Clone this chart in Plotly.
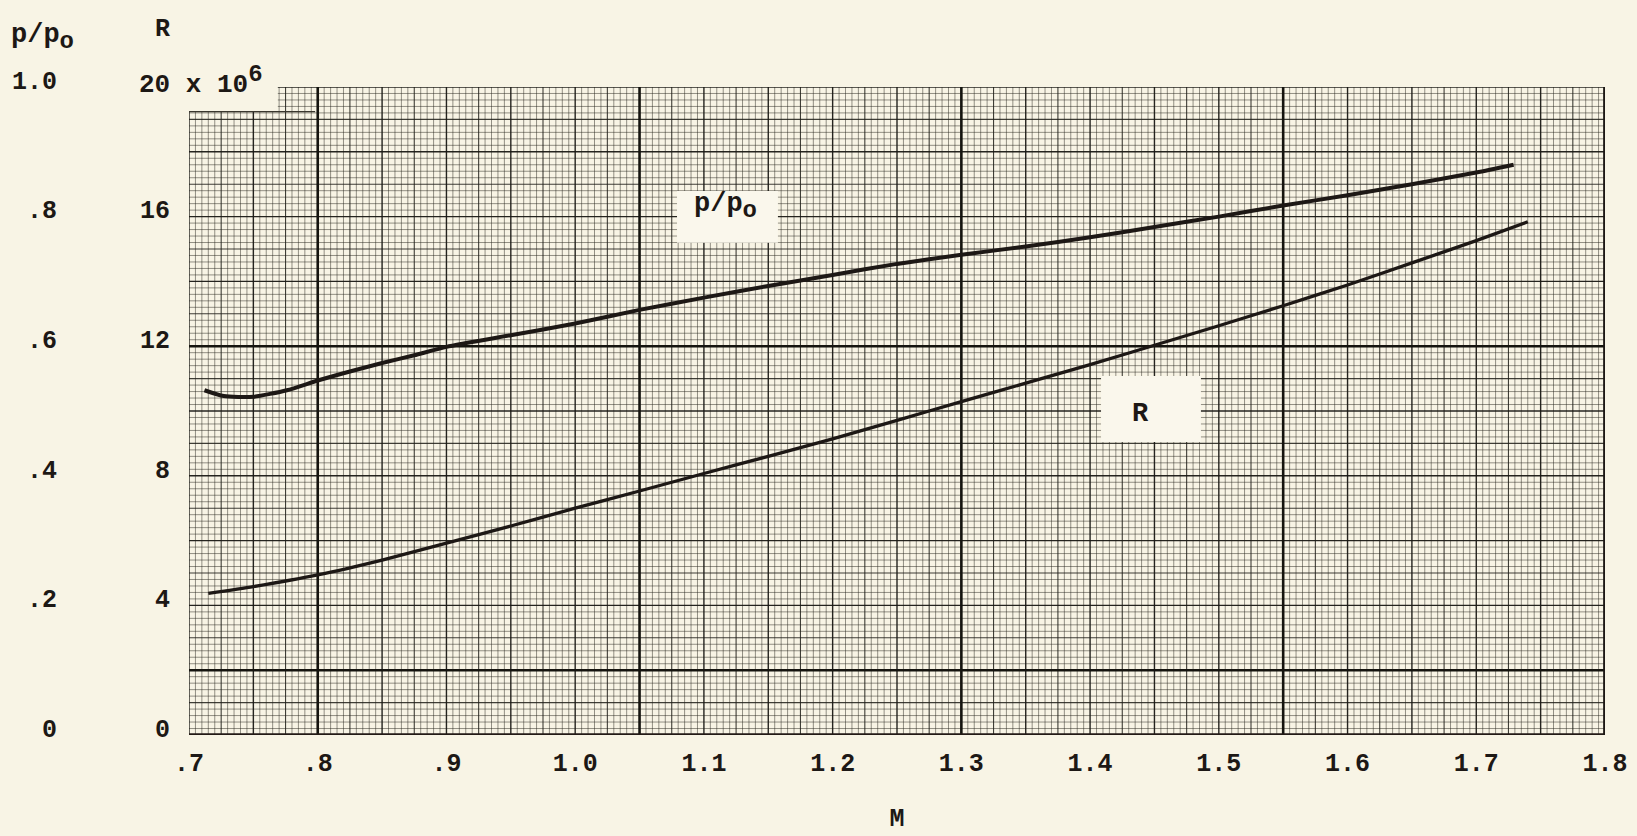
import plotly.graph_objects as go

# ---------------- data ----------------
M_p = [0.712, 0.727, 0.750, 0.776, 0.800, 0.825, 0.850, 0.875, 0.900, 0.950,
       1.000, 1.050, 1.100, 1.150, 1.200, 1.250, 1.300, 1.350, 1.400, 1.450, 1.500,
       1.550, 1.600, 1.650, 1.700, 1.729]
p_ratio = [0.532, 0.523, 0.522, 0.532, 0.547, 0.561, 0.574, 0.586, 0.599, 0.617,
           0.635, 0.656, 0.675, 0.693, 0.710, 0.727, 0.741, 0.754, 0.768, 0.784, 0.800,
           0.817, 0.833, 0.850, 0.868, 0.880]

M_R = [0.715, 0.750, 0.800, 0.850, 0.900, 0.950, 1.000, 1.050, 1.100, 1.150, 1.200,
       1.250, 1.300, 1.350, 1.400, 1.450, 1.500, 1.550, 1.600, 1.650, 1.700, 1.740]
R_millions = [4.37, 4.58, 4.94, 5.40, 5.92, 6.45, 7.00, 7.53, 8.07, 8.60, 9.14,
              9.71, 10.29, 10.86, 11.43, 12.03, 12.63, 13.25, 13.89, 14.57, 15.26, 15.84]

x_tickvals = [0.7, 0.8, 0.9, 1.0, 1.1, 1.2, 1.3, 1.4, 1.5, 1.6, 1.7, 1.8]
x_ticktext = [".7", ".8", ".9", "1.0", "1.1", "1.2", "1.3", "1.4", "1.5", "1.6", "1.7", "1.8"]
R_tickvals = [0, 4, 8, 12, 16]
R_ticktext = ["0", "4", "8", "12", "16"]
p_tickvals = [0, 0.2, 0.4, 0.6, 0.8, 1.0]
p_ticktext = ["0", ".2", ".4", ".6", ".8", "1.0"]

# ---------------- style ----------------
PAPER = "#F8F4E5"
INK = "#1d1815"
FONT = "Liberation Mono"
FS = 25
W, H = 1637, 836
ML, MR, MT, MB = 0, 32, 87, 101
PLOT_W = W - ML - MR          # 1605
PLOT_H = H - MT - MB          # 648
AX_LEFT = 189                 # pixel of M = 0.7
X_MIN, X_MAX = 0.7, 1.8
R_MAX = 20

fig = go.Figure()

fig.add_trace(go.Scatter(x=M_p, y=p_ratio, mode="lines", yaxis="y2",
                         line=dict(color=INK, width=4.0, shape="spline", smoothing=0.6),
                         showlegend=False, hoverinfo="skip"))
fig.add_trace(go.Scatter(x=M_R, y=R_millions, mode="lines", yaxis="y",
                         line=dict(color=INK, width=3.3, shape="spline", smoothing=0.6),
                         showlegend=False, hoverinfo="skip"))

# ---------------- graph-paper grid ----------------
shapes = []
STY = {
    "fine": dict(color="rgba(40,38,30,0.55)", width=0.9),
    "med": dict(color="rgba(30,29,24,0.85)", width=1.1),
    "semi": dict(color="rgba(25,24,20,0.95)", width=1.4),
    "heavy": dict(color="#15140f", width=2.6),
}

def level(k, heavy_off, heavy_step):
    if (k - heavy_off) % heavy_step == 0:
        return "heavy"
    if k % 10 == 0:
        return "semi"
    if k % 5 == 0:
        return "med"
    return "fine"

for lvl in ["fine", "med", "semi", "heavy"]:
    for i in range(0, 221):          # every 0.005 in M
        if level(i, 20, 50) != lvl:
            continue
        m = X_MIN + i * 0.005
        shapes.append(dict(type="line", xref="x", yref="y", x0=m, x1=m, y0=0, y1=R_MAX,
                           line=STY[lvl], layer="below"))
    for j in range(0, 101):          # every 0.2 in R
        if level(j, 10, 50) != lvl:
            continue
        r = j * 0.2
        shapes.append(dict(type="line", xref="x", yref="y", x0=X_MIN, x1=X_MAX, y0=r, y1=r,
                           line=STY[lvl], layer="below"))

# heavy bottom and right borders
shapes.append(dict(type="line", xref="x", yref="y", x0=X_MIN, x1=X_MAX, y0=0, y1=0,
                   line=dict(color="#231a16", width=3.6), layer="below"))
shapes.append(dict(type="line", xref="x", yref="y", x0=X_MAX, x1=X_MAX, y0=0, y1=R_MAX,
                   line=dict(color="#1c1714", width=3.6), layer="below"))

# cut-away corner of the paper at top-left
shapes.append(dict(type="rect", xref="x", yref="y", x0=0.690, x1=0.769, y0=19.24, y1=20.4,
                   fillcolor=PAPER, line=dict(width=0), layer="below"))
shapes.append(dict(type="line", xref="x", yref="y", x0=0.7, x1=0.798, y0=19.24, y1=19.24,
                   line=dict(color="#3a372e", width=1.2), layer="below"))

# label boxes
shapes.append(dict(type="rect", xref="x", yref="y", x0=1.0791, x1=1.1575, y0=15.19, y1=16.79,
                   fillcolor="#FAF7EC", line=dict(width=0), layer="below"))
shapes.append(dict(type="rect", xref="x", yref="y", x0=1.4085, x1=1.4861, y0=9.04, y1=11.08,
                   fillcolor="#FAF7EC", line=dict(width=0), layer="below"))

def px_x(px):
    return (px - ML) / PLOT_W

def px_y(py):
    return (MT + PLOT_H - py) / PLOT_H

tfont = dict(family=FONT, size=FS, color=INK, weight="bold")
lfont = dict(family=FONT, size=27, color=INK, weight="bold")
SUB_O = "<sub><span style='font-size:24px'>o</span></sub>"

annotations = [
    dict(text="p/p" + SUB_O, xref="x", yref="y", x=1.1164, y=16.30, showarrow=False,
         font=lfont),
    dict(text="R", xref="x", yref="y", x=1.4395, y=9.91, showarrow=False, font=lfont),
    dict(text="p/p" + SUB_O, xref="paper", yref="paper", x=px_x(9), y=px_y(37),
         xanchor="left", yanchor="middle", showarrow=False, font=lfont),
    dict(text="R", xref="paper", yref="paper", x=px_x(162), y=px_y(30),
         xanchor="center", yanchor="middle", showarrow=False, font=tfont),
    dict(text="20 x 10<sup><span style='font-size:24px'>6</span></sup>",
         xref="paper", yref="paper", x=px_x(137), y=px_y(81),
         xanchor="left", yanchor="middle", showarrow=False,
         font=dict(family=FONT, size=26, color=INK, weight="bold")),
]

fig.update_layout(
    width=W, height=H,
    margin=dict(l=ML, r=MR, t=MT, b=MB, pad=0, autoexpand=False),
    paper_bgcolor=PAPER, plot_bgcolor=PAPER,
    shapes=shapes, annotations=annotations,
    showlegend=False,
    xaxis=dict(domain=[(AX_LEFT - ML) / PLOT_W, 1], range=[X_MIN, X_MAX],
               tickvals=x_tickvals, ticktext=x_ticktext, tickfont=tfont,
               showgrid=False, zeroline=False, showline=False, ticks="",
               ticklabelstandoff=10, automargin=False,
               title=dict(text="M", font=dict(family=FONT, size=FS, color=INK, weight="bold"),
                          standoff=30)),
    yaxis=dict(range=[0, R_MAX], anchor="x", side="left",
               tickvals=R_tickvals, ticktext=R_ticktext, tickfont=tfont,
               showgrid=False, zeroline=False, showline=False, ticks="",
               ticklabelstandoff=18, ticklabelshift=-7, automargin=False),
    yaxis2=dict(range=[0, 1.0], overlaying="y", anchor="free", side="left",
                position=75 / PLOT_W,
                tickvals=p_tickvals, ticktext=p_ticktext, tickfont=tfont,
                showgrid=False, zeroline=False, showline=False, ticks="",
                ticklabelstandoff=18, ticklabelshift=-7, automargin=False),
)

fig.write_html("out.html", config={"displayModeBar": False},
               post_script="document.body.style.margin='0';document.body.style.background='%s';" % PAPER)
